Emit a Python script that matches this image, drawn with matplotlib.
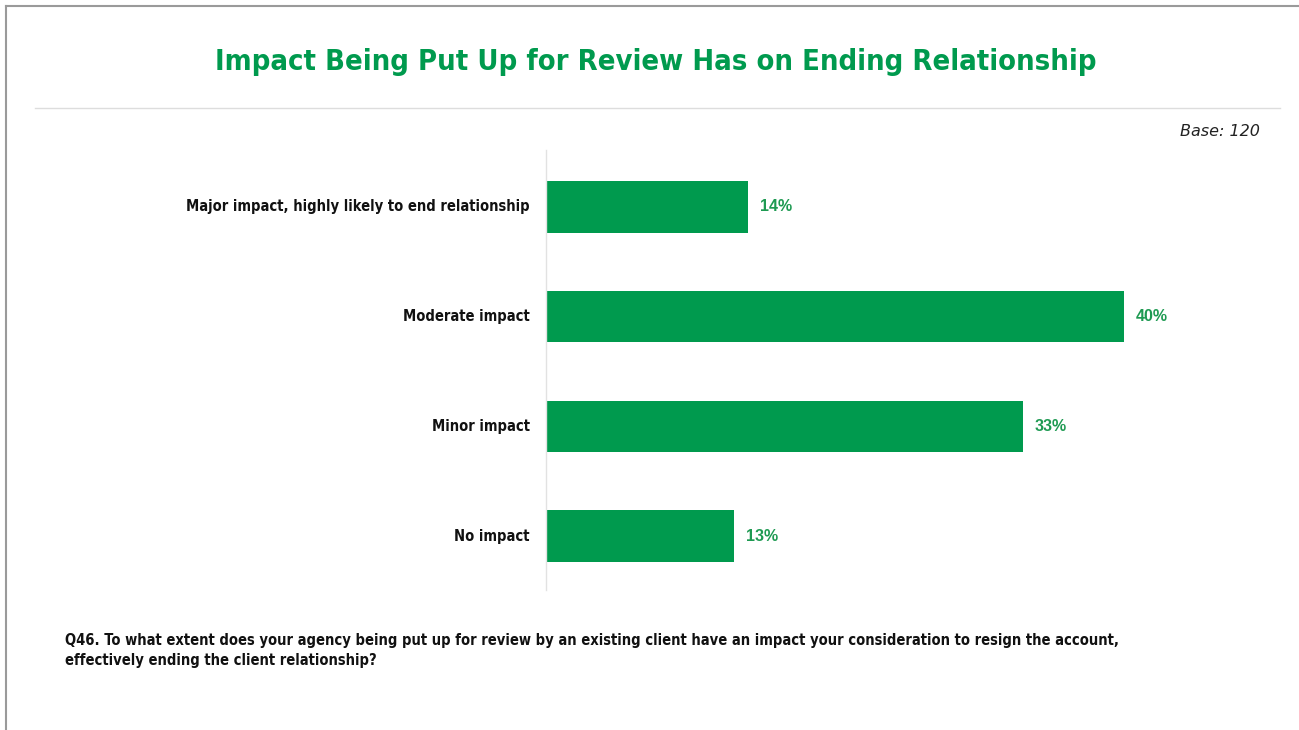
import matplotlib
matplotlib.use("Agg")
import matplotlib.pyplot as plt
from matplotlib.lines import Line2D
from matplotlib import font_manager as fm

categories = [
    "Major impact, highly likely to end relationship",
    "Moderate impact",
    "Minor impact",
    "No impact",
]
values = [14, 40, 33, 13]
value_labels = ["14%", "40%", "33%", "13%"]
title = "Impact Being Put Up for Review Has on Ending Relationship"
base_text = "Base: 120"
footnote_lines = ["Q46. To what extent does your agency being put up for review by an existing client have an impact your consideration to resign the account,",
                  "effectively ending the client relationship?"]

GREEN = "#009A4E"
LABEL_GREEN = "#1E9A52"

names = {f.name for f in fm.fontManager.ttflist}
cond_files = [f for f in fm.fontManager.ttflist if "condensed" in f.fname.lower() or "narrow" in f.fname.lower()]
narrow_prop = None
for f in cond_files:
    if "bold" in f.fname.lower() and "oblique" not in f.fname.lower() and "italic" not in f.fname.lower():
        narrow_prop = fm.FontProperties(fname=f.fname)
        break

W, H = 1299, 730
fig = plt.figure(figsize=(W / 100, H / 100), dpi=100)
fig.patch.set_facecolor("white")
renderer = fig.canvas.get_renderer()

def fx(px):
    return px / W

def fy(py):
    return 1 - py / H

def fit(t, target_px):
    bb = t.get_window_extent(renderer=renderer)
    t.set_fontsize(t.get_fontsize() * target_px / bb.width)

def nprops(size):
    if narrow_prop is not None:
        p = narrow_prop.copy()
        p.set_size(size)
        return dict(fontproperties=p)
    return dict(fontsize=size, fontweight="bold", family="DejaVu Sans")

# page border (top and left)
fig.add_artist(Line2D([fx(6), fx(1299)], [fy(6), fy(6)], color="#9a9a9a", lw=1.5))
fig.add_artist(Line2D([fx(6), fx(6)], [fy(6), fy(730)], color="#9a9a9a", lw=1.5))
# separator
fig.add_artist(Line2D([fx(35), fx(1280)], [fy(108), fy(108)], color="#dddddd", lw=1.0))

tt = fig.text(fx(656), fy(62), title, ha="center", va="center", color=GREEN, **nprops(23))
fit(tt, 882)
fig.text(fx(1260), fy(132), base_text, ha="right", va="center", color="#222222",
         fontsize=11.5, style="italic", family=["DejaVu Sans"])

ax_left, ax_top, ax_bottom = 546, 150, 590
px_per_unit = 14.45
xmax = 50
ax = fig.add_axes([fx(ax_left), fy(ax_bottom), (xmax * px_per_unit) / W, (ax_bottom - ax_top) / H])

pos = list(range(len(categories)))
ax.barh(pos, values, height=0.47, color=GREEN, edgecolor="none")
ax.set_xlim(0, xmax)
ax.set_ylim(3 + (590 - 536) / 110, -(207 - 150) / 110)

for p, v, lab in zip(pos, values, value_labels):
    ax.text(v + 12 / px_per_unit, p, lab, ha="left", va="center", color=LABEL_GREEN,
            fontsize=11.5, fontweight="bold", family=["Liberation Sans", "DejaVu Sans"])

# category labels as text, width fitted on the longest one
ax.set_yticks([])
cat_texts = []
for p, c in zip(pos, categories):
    t = ax.text(-16 / px_per_unit, p, c, ha="right", va="center", color="#111111", **nprops(12))
    cat_texts.append(t)
fit(cat_texts[0], 343)
for t in cat_texts[1:]:
    t.set_fontsize(cat_texts[0].get_fontsize())

ax.set_xticks([])
for s in ["top", "right", "bottom"]:
    ax.spines[s].set_visible(False)
ax.spines["left"].set_color("#e2e2e2")
ax.spines["left"].set_linewidth(1.0)

f1 = fig.text(fx(65), fy(641), footnote_lines[0], ha="left", va="center", color="#111111", **nprops(11))
fit(f1, 1047)
f2 = fig.text(fx(65), fy(660), footnote_lines[1], ha="left", va="center", color="#111111", **nprops(11))
f2.set_fontsize(f1.get_fontsize())

fig.savefig("out.png", dpi=100)
